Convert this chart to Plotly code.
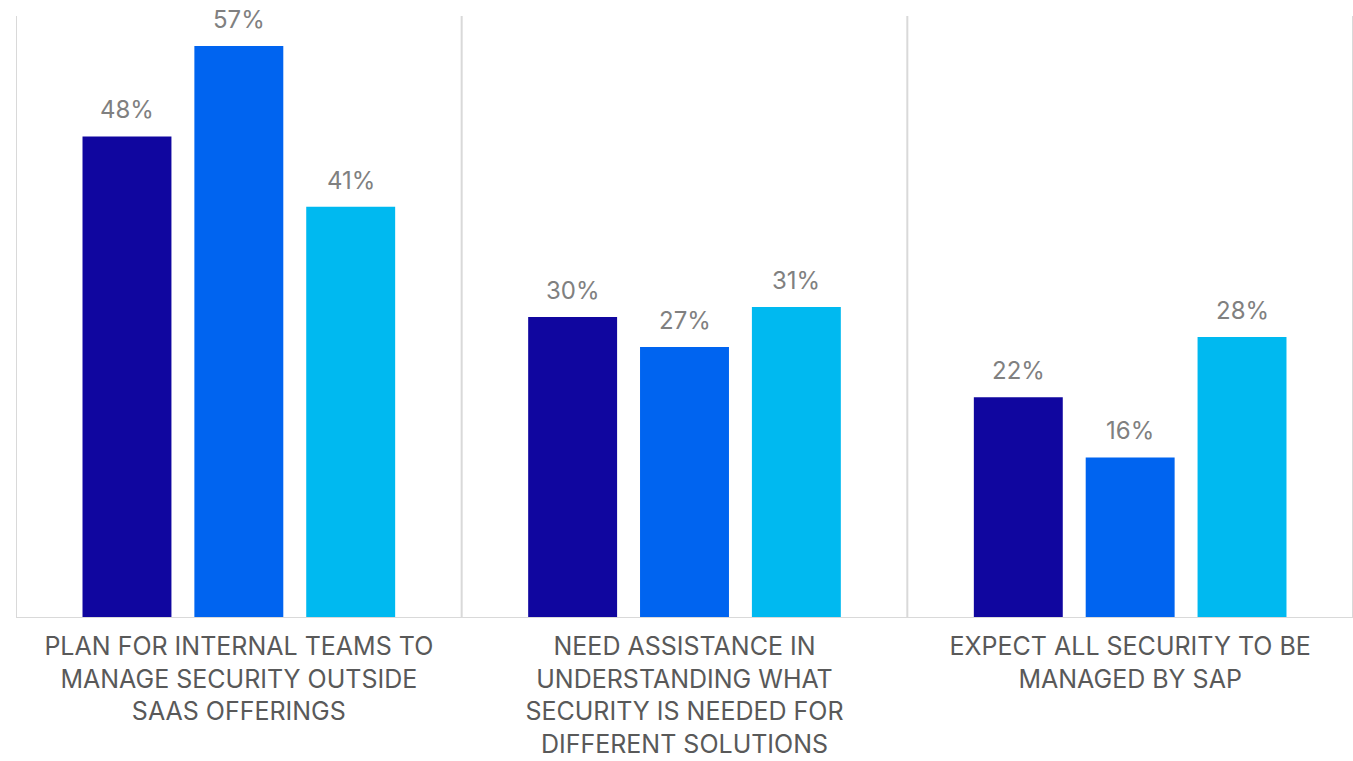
import plotly.graph_objects as go

categories = [
    "PLAN FOR INTERNAL TEAMS TO<br>MANAGE SECURITY OUTSIDE<br>SAAS OFFERINGS",
    "NEED ASSISTANCE IN<br>UNDERSTANDING WHAT<br>SECURITY IS NEEDED FOR<br>DIFFERENT SOLUTIONS",
    "EXPECT ALL SECURITY TO BE<br>MANAGED BY SAP",
]
series_names = ["Series 1", "Series 2", "Series 3"]
series_values = [
    [48, 30, 22],
    [57, 27, 16],
    [41, 31, 28],
]
colors = ["#10069F", "#0064F0", "#00B9F0"]

BARGAP = 0.247
BARGROUPGAP = 0.205

fig = go.Figure()
for name, vals, col in zip(series_names, series_values, colors):
    fig.add_trace(go.Bar(
        name=name, x=list(range(len(categories))), y=vals,
        marker=dict(color=col, line=dict(width=0)),
    ))

# value labels above each bar, placed at the bar's slot within its group
n_series = len(series_values)
slot = (1 - BARGAP) / n_series
annotations = []
for i, vals in enumerate(series_values):
    offset = (i - (n_series - 1) / 2) * slot
    for j, v in enumerate(vals):
        annotations.append(dict(
            x=j + offset, y=v, xref="x", yref="y", text=f"{v}%",
            showarrow=False, yanchor="bottom", yshift=10,
            font=dict(family="Inter", size=24, color="#808080"),
        ))

# vertical separators between categories and at the plot edges
shapes = []
for xv in [-0.5, 0.5, 1.5, 2.5]:
    shapes.append(dict(type="line", xref="x", yref="paper", x0=xv, x1=xv, y0=0, y1=1,
                       line=dict(color="#D9D9D9", width=2)))
shapes.append(dict(type="line", xref="paper", yref="y", x0=0, x1=1, y0=0, y1=0,
                   line=dict(color="#D9D9D9", width=2)))

fig.update_layout(
    width=1353, height=761,
    margin=dict(l=16, r=0, t=16, b=143),
    paper_bgcolor="white", plot_bgcolor="white",
    barmode="group", bargap=BARGAP, bargroupgap=BARGROUPGAP,
    showlegend=False,
    shapes=shapes,
    annotations=annotations,
    font=dict(family="Inter"),
)
fig.update_xaxes(
    tickmode="array", tickvals=list(range(len(categories))), ticktext=categories,
    range=[-0.5, 2.5], showgrid=False, zeroline=False, showline=False, ticks="",
    tickfont=dict(family="Inter", size=25, color="#595959"), tickangle=0,
    ticklabelstandoff=11, automargin=False,
)
fig.update_yaxes(range=[0, 60], showgrid=False, zeroline=False, showticklabels=False,
                 automargin=False)

fig.write_html("out.html")
